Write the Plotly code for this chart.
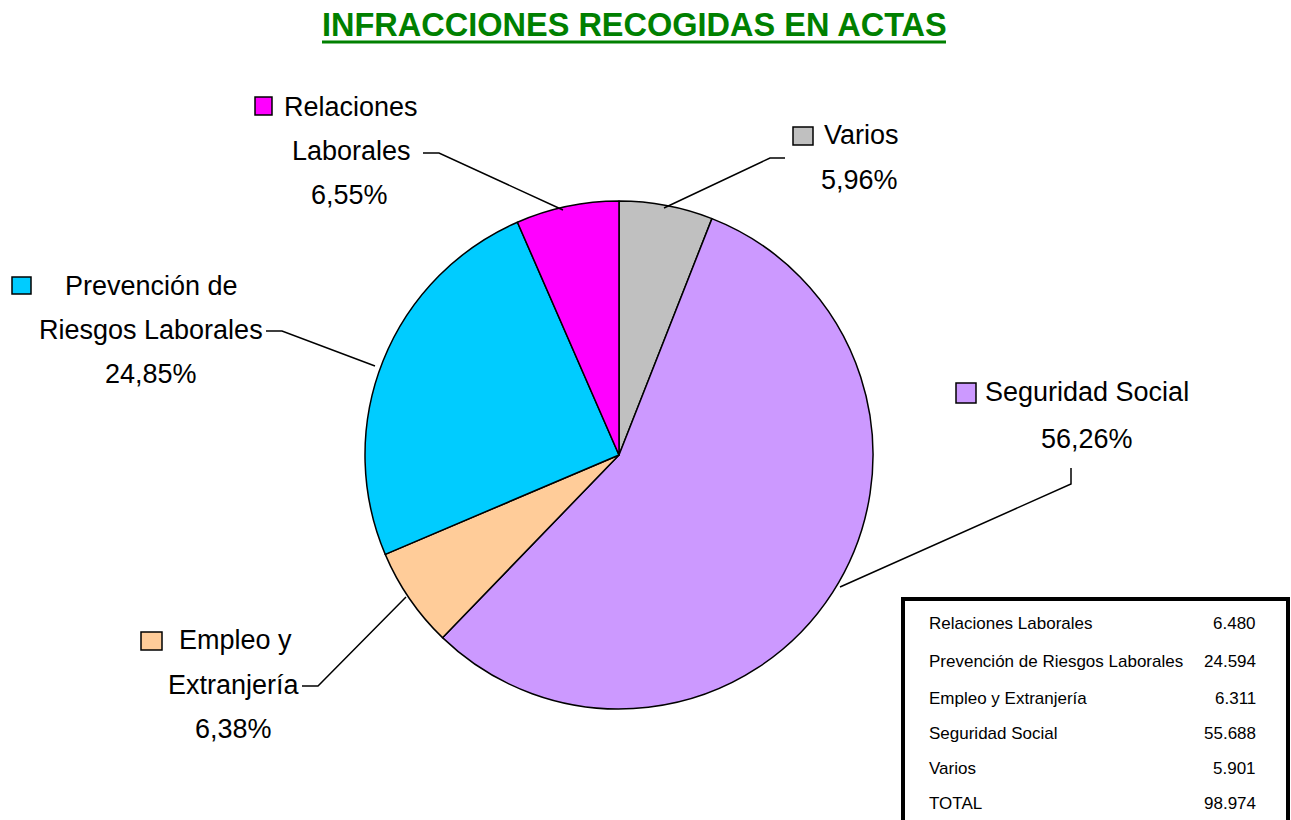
import plotly.graph_objects as go

W, H = 1291, 820

# ---- data ----
categories = ["Varios", "Seguridad Social", "Empleo y Extranjería",
              "Prevención de Riesgos Laborales", "Relaciones Laborales"]
values = [5901, 55688, 6311, 24594, 6480]
# percentages as printed on the chart
pct_labels = ["5,96%", "56,26%", "6,38%", "24,85%", "6,55%"]
colors = ["#C0C0C0", "#CC99FF", "#FFCC99", "#00CCFF", "#FF00FF"]

# label line breaks as shown on the chart
label_lines = {
    "Varios": ["Varios"],
    "Seguridad Social": ["Seguridad Social"],
    "Empleo y Extranjería": ["Empleo y", "Extranjería"],
    "Prevención de Riesgos Laborales": ["Prevención de", "Riesgos Laborales"],
    "Relaciones Laborales": ["Relaciones", "Laborales"],
}

table_order = ["Relaciones Laborales", "Prevención de Riesgos Laborales",
               "Empleo y Extranjería", "Seguridad Social", "Varios"]
total_label = "TOTAL"

title = "INFRACCIONES RECOGIDAS EN ACTAS"

FONT = "Liberation Sans Narrow, Arial Narrow, Liberation Sans, Arial, sans-serif"


def px(x):
    return x / W


def py(y):
    return 1 - y / H


def fmt_int(v):
    return f"{v:,}".replace(",", ".")


total = sum(values)

cx, cy, r = 619, 455, 254

fig = go.Figure(go.Pie(
    labels=categories, values=values, sort=False, direction="clockwise",
    rotation=0, textinfo="none", hoverinfo="label+percent",
    marker=dict(colors=colors, line=dict(color="black", width=1.5)),
    domain=dict(x=[px(cx - r), px(cx + r)], y=[py(cy + r), py(cy - r)]),
    showlegend=False,
))

annotations = []
shapes = []

# title
annotations.append(dict(x=px(634), y=py(25), xref="paper", yref="paper",
                        text=f"<b>{title}</b>", showarrow=False,
                        font=dict(family=FONT, size=32.5, color="#008000"),
                        xanchor="center", yanchor="middle"))
shapes.append(dict(type="line", xref="paper", yref="paper",
                   x0=px(322), x1=px(946), y0=py(42), y1=py(42),
                   line=dict(color="#008000", width=3)))

# label layout: square box, line centers, percent center, leader path
layout_info = {
    "Relaciones Laborales": dict(sq=(255, 97, 272, 115),
                                 lines=[(351, 105), (351, 149)], pct=(350, 193),
                                 leader=[(423, 153), (439, 153), (563, 210)]),
    "Prevención de Riesgos Laborales": dict(sq=(12, 277, 31, 294),
                                            lines=[(151, 284), (151, 328)], pct=(151, 372),
                                            leader=[(266, 331), (282, 331), (375, 366)]),
    "Varios": dict(sq=(793, 127, 813, 145),
                   lines=[(861, 133)], pct=(859, 178),
                   leader=[(785, 158), (770, 158), (664, 208)]),
    "Seguridad Social": dict(sq=(956, 383, 976, 403),
                             lines=[(1087, 390)], pct=(1087, 437),
                             leader=[(1071, 468), (1071, 484), (840, 587)]),
    "Empleo y Extranjería": dict(sq=(141, 632, 162, 650),
                                 lines=[(235, 638), (234, 683)], pct=(233, 727),
                                 leader=[(302, 686), (318, 686), (406, 597)]),
}

LABEL_SIZE = 27
for cat, pct, col in zip(categories, pct_labels, colors):
    info = layout_info[cat]
    x0, y0, x1, y1 = info["sq"]
    shapes.append(dict(type="rect", xref="paper", yref="paper",
                       x0=px(x0), x1=px(x1), y0=py(y0), y1=py(y1),
                       fillcolor=col, line=dict(color="black", width=1.5)))
    for txt, (lx, ly) in zip(label_lines[cat], info["lines"]):
        annotations.append(dict(x=px(lx), y=py(ly + 2), xref="paper", yref="paper",
                                text=txt, showarrow=False,
                                font=dict(family=FONT, size=LABEL_SIZE, color="black"),
                                xanchor="center", yanchor="middle"))
    lx, ly = info["pct"]
    annotations.append(dict(x=px(lx), y=py(ly + 2), xref="paper", yref="paper",
                            text=pct, showarrow=False,
                            font=dict(family=FONT, size=LABEL_SIZE, color="black"),
                            xanchor="center", yanchor="middle"))
    pts = info["leader"]
    path = "M " + " L ".join(f"{px(a)},{py(b)}" for a, b in pts)
    shapes.append(dict(type="path", xref="paper", yref="paper", path=path,
                       line=dict(color="black", width=1.5)))

# table box
shapes.append(dict(type="rect", xref="paper", yref="paper",
                   x0=px(903), x1=px(1288), y0=py(599), y1=py(824),
                   fillcolor="white", line=dict(color="black", width=4), layer="below"))

val_by_cat = dict(zip(categories, values))
rows = [(c, val_by_cat[c]) for c in table_order] + [(total_label, total)]
row_y = [623, 661, 698, 733, 768, 803]
TABLE_SIZE = 17
for (name, v), ry in zip(rows, row_y):
    annotations.append(dict(x=px(927), y=py(ry), xref="paper", yref="paper",
                            text=name, showarrow=False,
                            font=dict(family=FONT, size=TABLE_SIZE, color="black"),
                            xanchor="left", yanchor="middle"))
    annotations.append(dict(x=px(1258), y=py(ry), xref="paper", yref="paper",
                            text=fmt_int(v), showarrow=False,
                            font=dict(family=FONT, size=TABLE_SIZE, color="black"),
                            xanchor="right", yanchor="middle"))

fig.update_layout(width=W, height=H, margin=dict(l=0, r=0, t=0, b=0),
                  paper_bgcolor="white", plot_bgcolor="white",
                  annotations=annotations, shapes=shapes)

fig.write_html("out.html", config={"displayModeBar": False},
               post_script="document.body.style.margin='0';document.body.style.overflow='hidden';")
